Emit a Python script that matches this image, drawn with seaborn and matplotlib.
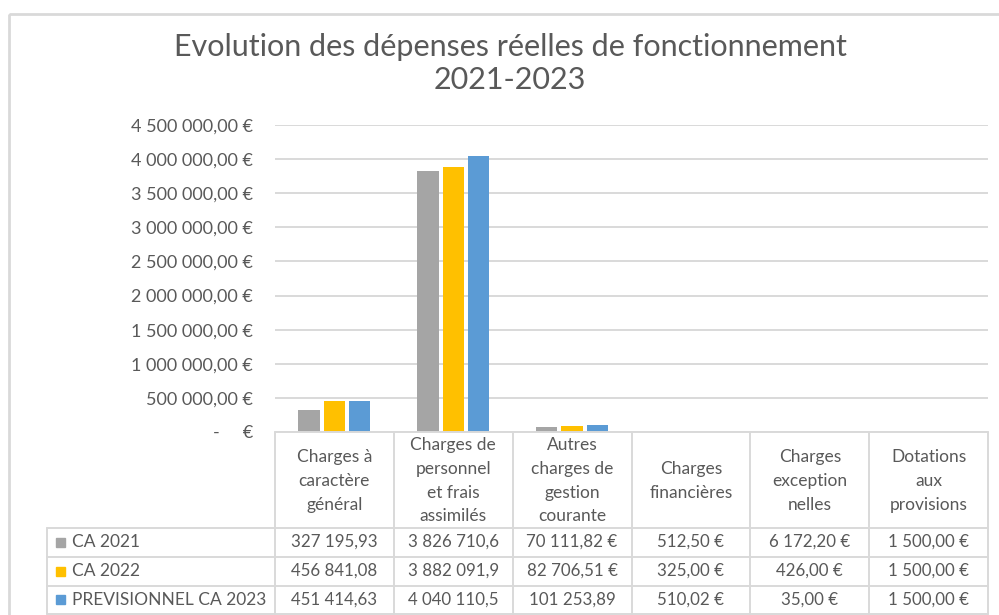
import numpy as np
import pandas as pd
import matplotlib
matplotlib.use("Agg")
import matplotlib.pyplot as plt
from matplotlib.patches import Rectangle
from matplotlib.ticker import FuncFormatter, MultipleLocator
import seaborn as sns

'''Data'''
categories = ["Charges à\ncaractère\ngénéral",
              "Charges de\npersonnel\net frais\nassimilés",
              "Autres\ncharges de\ngestion\ncourante",
              "Charges\nfinancières",
              "Charges\nexception\nnelles",
              "Dotations\naux\nprovisions"]
series = ["CA 2021", "CA 2022", "PREVISIONNEL CA 2023"]
ca_2021 = [327195.93, 3826710.60, 70111.82, 512.50, 6172.20, 1500.00]
ca_2022 = [456841.08, 3882091.90, 82706.51, 325.00, 426.00, 1500.00]
prev_2023 = [451414.63, 4040110.50, 101253.89, 510.02, 35.00, 1500.00]
colors = ["#A5A5A5", "#FFC000", "#5B9BD5"]

TXT = "#595959"
LINE = "#D9D9D9"


def fr_money(v):
    '''French currency format: 4 500 000,00 €'''
    s = f"{v:,.2f}".replace(",", " ").replace(".", ",")
    return s + " €"


def cell_text(v):
    '''Excel drops the € and cuts digits when the cell is too narrow'''
    s = fr_money(v)
    if len(s) > 11:
        s = s[:-2][:11]
    return s


def tick_fmt(v, pos):
    if v == 0:
        return "-     €"
    return fr_money(v)


sns.set_theme(style="white")
plt.rcParams['font.family'] = ['Lato', 'DejaVu Sans']

values = [ca_2021, ca_2022, prev_2023]
df = pd.DataFrame({
    'categorie': [c for s in series for c in categories],
    'serie': [s for s in series for c in categories],
    'valeur': [v for vals in values for v in vals],
})

W, H = 999, 615
fig = plt.figure(figsize=(W / 100, H / 100), dpi=100)

# plot area in pixel units
x0, x1, ytop, ybot = 275, 988, 125, 432
ax = fig.add_axes([x0 / W, 1 - ybot / H, (x1 - x0) / W, (ybot - ytop) / H])

sns.barplot(data=df, x='categorie', y='valeur', hue='serie', order=categories,
            hue_order=series, palette=colors, saturation=1, width=0.64, gap=0.16,
            linewidth=0, legend=False, ax=ax)

ax.set_xlim(-0.5, len(categories) - 0.5)
ax.set_ylim(0, 4500000)
ax.yaxis.set_major_locator(MultipleLocator(500000))
ax.yaxis.set_major_formatter(FuncFormatter(tick_fmt))
ax.grid(axis='y', color=LINE, lw=1.4)
ax.set_axisbelow(True)
ax.set_xticks([])
ax.set_xlabel("")
ax.set_ylabel("")
for side in ['left', 'top', 'right', 'bottom']:
    ax.spines[side].set_visible(False)
ax.tick_params(axis='y', length=0, pad=16, labelsize=13, labelcolor=TXT)

# overlay in pixel coordinates for the frame, title and data table
ov = fig.add_axes([0, 0, 1, 1], zorder=-1)
ov.set_xlim(0, W)
ov.set_ylim(H, 0)
ov.axis('off')
ov.add_patch(Rectangle((8.5, 14), W, H, fill=False, ec=LINE, lw=2))

ov.text(510, 47, "Evolution des dépenses réelles de fonctionnement",
        ha='center', va='center', fontsize=22, color=TXT)
ov.text(510, 80, "2021-2023", ha='center', va='center', fontsize=22, color=TXT)

# data table
tab = fig.add_axes([0, 0, 1, 1])
tab.set_xlim(0, W)
tab.set_ylim(H, 0)
tab.axis('off')

col_w = (x1 - x0) / len(categories)
row_lines = [ybot, 527.5, 556.5, 585.5, 614]
lg_left = 47

tab.plot([x0, x1], [ybot, ybot], color=LINE, lw=1.4)
for i in range(len(categories) + 1):
    xx = x0 + i * col_w
    tab.plot([xx, xx], [ybot, row_lines[-1]], color=LINE, lw=1.4)
for yy in row_lines[1:]:
    tab.plot([lg_left, x1], [yy, yy], color=LINE, lw=1.4)
tab.plot([lg_left, lg_left], [row_lines[1], row_lines[-1]], color=LINE, lw=1.4)

for i, cat in enumerate(categories):
    tab.text(x0 + (i + 0.5) * col_w, (row_lines[0] + row_lines[1]) / 2 + 1, cat,
             ha='center', va='center', fontsize=12.5, color=TXT, linespacing=1.6)

for r, (name, vals, col) in enumerate(zip(series, values, colors)):
    yc = (row_lines[r + 1] + row_lines[r + 2]) / 2
    tab.add_patch(Rectangle((56, yc - 4.5), 9, 9, color=col))
    tab.text(72, yc, name, ha='left', va='center', fontsize=12.5, color=TXT)
    for i, v in enumerate(vals):
        tab.text(x0 + (i + 0.5) * col_w, yc, cell_text(v), ha='center', va='center',
                 fontsize=12.2, color=TXT)

fig.savefig("out.png", dpi=100, facecolor='white')
